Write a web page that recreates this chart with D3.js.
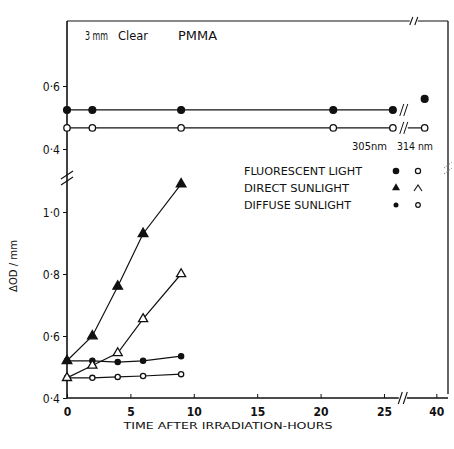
<!DOCTYPE html>
<html><head><meta charset="utf-8">
<script src="https://cdn.jsdelivr.net/npm/d3@7"></script>
<style>
body{margin:0;background:#fff;}
svg text{font-family:"DejaVu Sans Condensed","DejaVu Sans",sans-serif;fill:#111;}
</style></head>
<body><svg id="c" width="454" height="449"></svg>
<script>
// ---- data ----
const hoursLower = [0, 2, 4, 6, 9];
const direct305  = [0.52, 0.60, 0.76, 0.93, 1.09];
const direct314  = [0.465, 0.505, 0.545, 0.655, 0.80];
const diffuse305 = [0.52, 0.52, 0.516, 0.52, 0.535];
const diffuse314 = [0.465, 0.465, 0.468, 0.471, 0.477];
const hoursUpper = [0, 2, 9, 21, 25.7, 39];
const fluor305   = [0.524, 0.524, 0.524, 0.524, 0.524, 0.559];
const fluor314   = [0.467, 0.467, 0.467, 0.467, 0.467, 0.467];
const xTicks = [0, 5, 10, 15, 20, 25, 40];
const yTicksUpper = [0.4, 0.6];
const yTicksLower = [0.4, 0.6, 0.8, 1.0];
const legendRows = ["FLUORESCENT LIGHT", "DIRECT SUNLIGHT", "DIFFUSE SUNLIGHT"];
const legendHeads = ["305nm", "314 nm"];
const title = ["3 mm", "Clear", "PMMA"];
const xLabel = "TIME AFTER IRRADIATION-HOURS";
const yLabel = "\u0394OD / mm";
const breakHour = 27.4;

// ---- layout ----
const svg = d3.select("#c");
const fLeft = 67, fRight = 448, fTop = 21, fBottom = 398, yBreak = 178;
const x = d3.scaleLinear().domain([0, 26.5, 38, 41]).range([67, 403, 413, 448]);
const yUp = d3.scaleLinear().domain([0.4, 0.6]).range([149, 86]);
const yLo = d3.scaleLinear().domain([0.4, 1.0]).range([398, 212]);
const fmt = d => d3.format(".1f")(d).replace(".", "\u00b7");

const g = svg.append("g");
const stroke = "#111";

// frame
g.append("line").attr("x1", fLeft).attr("x2", fLeft).attr("y1", fTop).attr("y2", fBottom).attr("stroke", stroke).attr("stroke-width", 1.6);
g.append("line").attr("x1", fLeft).attr("x2", fRight).attr("y1", fTop).attr("y2", fTop).attr("stroke", stroke).attr("stroke-width", 1.2);
g.append("line").attr("x1", fRight).attr("x2", fRight).attr("y1", fTop).attr("y2", fBottom - 4).attr("stroke", stroke).attr("stroke-width", 1.3);
g.append("line").attr("x1", fLeft).attr("x2", fRight).attr("y1", fBottom).attr("y2", fBottom).attr("stroke", stroke).attr("stroke-width", 1.4);

// break marks
function slashes(cx, cy, dx, dy) {
  g.append("rect").attr("x", cx - 4).attr("y", cy - 2).attr("width", 8).attr("height", 4).attr("fill", "#fff");
  [-2.5, 2.5].forEach(o => {
    g.append("line").attr("x1", cx + o - dx).attr("y1", cy + dy).attr("x2", cx + o + dx).attr("y2", cy - dy)
      .attr("stroke", stroke).attr("stroke-width", 1.1);
  });
}
slashes(x(breakHour) - 1, fBottom, 2, 6);
slashes(x(breakHour) + 10, fTop, 1.5, 4);
// left axis break
[-3, 3].forEach(o => {
  g.append("line").attr("x1", fLeft - 6).attr("y1", yBreak + o + 4).attr("x2", fLeft + 6).attr("y2", yBreak + o - 4).attr("stroke", stroke).attr("stroke-width", 1.1);
});
[-3, 3].forEach(o => {
  g.append("line").attr("x1", fRight - 4).attr("y1", 168 + o + 3).attr("x2", fRight + 4).attr("y2", 168 + o - 3).attr("stroke", "#888").attr("stroke-width", 1).attr("stroke-dasharray", "1.5,1.5");
});

// axes
const xAx = g.append("g").attr("transform", `translate(0,${fBottom})`)
  .call(d3.axisBottom(x).tickValues(xTicks).tickSize(-4).tickPadding(9).tickFormat(d3.format("d")));
xAx.select(".domain").remove();
xAx.selectAll("text").attr("font-size", 12).attr("font-weight", "bold").style("font-family", "'DejaVu Sans Condensed',sans-serif");
const yU = g.append("g").attr("transform", `translate(${fLeft},0)`)
  .call(d3.axisLeft(yUp).tickValues(yTicksUpper).tickSize(4).tickPadding(3).tickFormat(fmt));
yU.select(".domain").remove();
const yL = g.append("g").attr("transform", `translate(${fLeft},0)`)
  .call(d3.axisLeft(yLo).tickValues(yTicksLower).tickSize(4).tickPadding(3).tickFormat(fmt));
yL.select(".domain").remove();
[yU, yL].forEach(a => a.selectAll("text").attr("font-size", 12).attr("dy", "0.35em"));
g.selectAll(".tick line").attr("stroke", stroke);

// series
function series(xs, ys, yScale, idx) {
  const pts = idx.map(i => [x(xs[i]), yScale(ys[i])]);
  g.append("path").attr("d", d3.line()(pts)).attr("fill", "none").attr("stroke", stroke).attr("stroke-width", 1.2);
  return pts;
}
function drawMarkers(xs, ys, yScale, type, size) {
  xs.forEach((h, i) => {
    const cx = x(h), cy = yScale(ys[i]);
    if (type === "filledCircle" || type === "openCircle") {
      g.append("circle").attr("cx", cx).attr("cy", cy).attr("r", size)
        .attr("fill", type === "filledCircle" ? stroke : "#fff").attr("stroke", stroke).attr("stroke-width", 1.3);
    } else {
      g.append("path").attr("transform", `translate(${cx},${cy})`)
        .attr("d", d3.symbol(d3.symbolTriangle, size)())
        .attr("fill", type === "filledTri" ? stroke : "#fff").attr("stroke", stroke).attr("stroke-width", 1.3);
    }
  });
}
// upper panel
series(hoursUpper, fluor305, yUp, [0, 1, 2, 3, 4]);
series(hoursUpper, fluor314, yUp, [0, 1, 2, 3, 4]);
g.append("line").attr("x1", x(breakHour) + 3).attr("x2", x(hoursUpper[5])).attr("y1", yUp(fluor314[5])).attr("y2", yUp(fluor314[5])).attr("stroke", stroke).attr("stroke-width", 1.2);
[fluor305, fluor314].forEach(s => {
  const yy = yUp(s[4]);
  g.append("rect").attr("x", x(breakHour) - 6).attr("y", yy - 2).attr("width", 10).attr("height", 4).attr("fill", "#fff");
  [-2, 2].forEach(o => g.append("path").attr("d", `M${x(breakHour) + o - 2},${yy + 6} Q${x(breakHour) + o},${yy} ${x(breakHour) + o + 2},${yy - 6}`).attr("fill", "none").attr("stroke", stroke).attr("stroke-width", 1));
});
drawMarkers(hoursUpper, fluor305, yUp, "filledCircle", 3.4);
drawMarkers(hoursUpper, fluor314, yUp, "openCircle", 3.2);

// lower panel
series(hoursLower, direct305, yLo, [0, 1, 2, 3, 4]);
series(hoursLower, direct314, yLo, [0, 1, 2, 3, 4]);
series(hoursLower, diffuse305, yLo, [0, 1, 2, 3, 4]);
series(hoursLower, diffuse314, yLo, [0, 1, 2, 3, 4]);
drawMarkers(hoursLower, diffuse305, yLo, "filledCircle", 2.6);
drawMarkers(hoursLower, diffuse314, yLo, "openCircle", 2.6);
drawMarkers(hoursLower, direct314, yLo, "openTri", 36);
drawMarkers(hoursLower, direct305, yLo, "filledTri", 40);

// title
const tx = [85, 118, 178];
const tw = [23, 30, 39];
title.forEach((t, i) => g.append("text").attr("x", tx[i]).attr("y", 40).attr("font-size", 11.5)
  .attr("textLength", tw[i]).attr("lengthAdjust", "spacingAndGlyphs").text(t));

// legend
const headX = [352, 397];
legendHeads.forEach((t, i) => g.append("text").attr("x", headX[i]).attr("y", 150).attr("font-size", 10)
  .attr("textLength", i ? 36 : 35).attr("lengthAdjust", "spacingAndGlyphs").text(t));
const rowY = [171, 188, 205];
const rowW = [118, 105, 107];
legendRows.forEach((t, i) => g.append("text").attr("x", 244).attr("y", rowY[i] + 4).attr("font-size", 10.5)
  .attr("textLength", rowW[i]).attr("lengthAdjust", "spacingAndGlyphs").text(t));
const lx1 = 396, lx2 = 418;
g.append("circle").attr("cx", lx1).attr("cy", rowY[0]).attr("r", 3.3).attr("fill", stroke);
g.append("circle").attr("cx", lx2).attr("cy", rowY[0]).attr("r", 2.6).attr("fill", "#fff").attr("stroke", stroke).attr("stroke-width", 1.2);
g.append("path").attr("transform", `translate(${lx1},${rowY[1]})`).attr("d", d3.symbol(d3.symbolTriangle, 28)()).attr("fill", stroke);
g.append("path").attr("d", `M${lx2 - 4},${rowY[1] + 3} L${lx2},${rowY[1] - 3} L${lx2 + 4},${rowY[1] + 3}`).attr("fill", "none").attr("stroke", stroke).attr("stroke-width", 1.1);
g.append("circle").attr("cx", lx1).attr("cy", rowY[2]).attr("r", 2.5).attr("fill", stroke);
g.append("circle").attr("cx", lx2).attr("cy", rowY[2]).attr("r", 2.3).attr("fill", "#fff").attr("stroke", stroke).attr("stroke-width", 1.2);

// axis labels
g.append("text").attr("x", 228).attr("y", 429).attr("text-anchor", "middle").attr("font-size", 9.5)
  .attr("textLength", 209).attr("lengthAdjust", "spacingAndGlyphs").text(xLabel);
g.append("text").attr("transform", "translate(17,266) rotate(-90)").attr("text-anchor", "middle").attr("font-size", 11)
  .attr("textLength", 52).attr("lengthAdjust", "spacingAndGlyphs").text(yLabel);
</script></body></html>
